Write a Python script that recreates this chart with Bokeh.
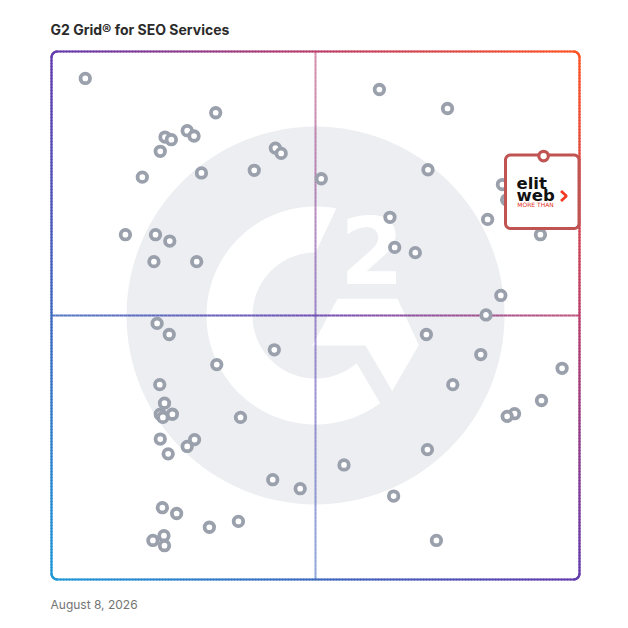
import numpy as np
from bokeh.plotting import figure
from bokeh.models import Range1d, ColumnDataSource
from bokeh.core.properties import value
from bokeh.embed import file_html
from bokeh.resources import INLINE

# ---------------- data ----------------
TITLE = "G2 Grid\u00ae for SEO Services"
DATE_LABEL = "August 8, 2026"

# satisfaction (x) and market presence (y), 0-100 scale
satisfaction = [
    6.4, 31.1, 25.7, 27.0, 21.5, 22.7, 20.6, 17.2, 28.4, 38.4, 42.4, 43.5, 14.0, 19.7, 22.4, 19.4, 27.5,
    51.1, 62.1, 75.0, 71.3, 64.1, 65.0, 68.9, 82.6, 85.4, 86.2, 92.6, 85.1, 82.3,
    20.0, 22.3, 42.2, 31.3, 20.5, 21.4, 20.6, 21.1, 22.9, 35.8, 20.6, 27.1, 25.7, 22.1, 41.9, 47.1,
    21.0, 23.7, 29.9, 35.4, 19.2, 21.3, 21.4,
    71.0, 81.3, 76.0, 96.7, 92.8, 87.7, 86.3, 71.2, 55.4, 64.8, 72.9,
]
market_presence = [
    94.9, 88.4, 85.0, 84.0, 83.8, 83.3, 81.1, 76.2, 77.0, 77.5, 81.7, 80.7, 65.3, 65.3, 64.1, 60.2, 60.2,
    75.9, 92.8, 89.2, 77.6, 68.6, 62.9, 61.9, 68.2, 74.8, 71.9, 65.3, 53.8, 50.1,
    48.5, 46.4, 43.5, 40.7, 36.9, 33.4, 31.3, 30.7, 31.3, 30.7, 26.6, 26.5, 25.2, 23.8, 18.9, 17.2,
    13.6, 12.5, 9.9, 11.0, 7.4, 8.3, 6.4,
    46.4, 42.6, 36.9, 40.0, 33.9, 31.4, 30.9, 24.6, 21.7, 15.8, 7.4,
]
highlight_name = ["Elit-Web"]
highlight_satisfaction = [93.2]
highlight_presence = [80.2]

# ---------------- geometry (pixels of the page) ----------------
W = H = 620
OFF = 0
FX0, FX1 = 51.0, 579.0
FY0, FY1 = 51.0, 579.0
S = (FX1 - FX0) / 100.0


def dx(X):
    return (np.asarray(X, dtype=float) - FX0) / S


def dy(Y):
    return (FY1 - np.asarray(Y, dtype=float)) / S


STOPS = [(0.0, (32, 152, 214)), (0.25, (64, 106, 190)), (0.5, (100, 60, 174)),
         (0.75, (186, 64, 108)), (1.0, (255, 84, 36))]


def grad(X, Y):
    t = ((X - FX0) + (FY1 - Y)) / (2 * (FX1 - FX0))
    t = min(max(t, 0.0), 1.0)
    for (t0, c0), (t1, c1) in zip(STOPS[:-1], STOPS[1:]):
        if t <= t1:
            f = (t - t0) / (t1 - t0)
            return "#%02x%02x%02x" % tuple(int(round(a + (b - a) * f)) for a, b in zip(c0, c1))
    return "#ff5424"


def rounded_rect(x0, y0, x1, y1, r, n=10):
    pts = []
    corners = [(x1 - r, y0 + r, -90, 0), (x1 - r, y1 - r, 0, 90),
               (x0 + r, y1 - r, 90, 180), (x0 + r, y0 + r, 180, 270)]
    for cx, cy, a0, a1 in corners:
        for a in np.linspace(a0, a1, n):
            pts.append((cx + r * np.cos(np.radians(a)), cy + r * np.sin(np.radians(a))))
    pts.append(pts[0])
    return pts


def segments(pts, step=3.0):
    xs, ys, cs = [], [], []
    for (xa, ya), (xb, yb) in zip(pts[:-1], pts[1:]):
        L = np.hypot(xb - xa, yb - ya)
        k = max(1, int(np.ceil(L / step)))
        for i in range(k):
            f0, f1 = i / k, (i + 1) / k
            ax, ay = xa + (xb - xa) * f0, ya + (yb - ya) * f0
            bx, by = xa + (xb - xa) * f1, ya + (yb - ya) * f1
            xs.append(list(dx([ax, bx])))
            ys.append(list(dy([ay, by])))
            cs.append(grad((ax + bx) / 2, (ay + by) / 2))
    return dict(xs=xs, ys=ys, color=cs)


p = figure(width=W, height=H, output_backend="svg", toolbar_location=None,
           x_range=Range1d(float(dx(OFF)), float(dx(OFF + W))),
           y_range=Range1d(float(dy(OFF + H)), float(dy(OFF))),
           x_axis_type=None, y_axis_type=None, min_border=0,
           background_fill_color="white", border_fill_color="white")
p.outline_line_color = None
p.grid.visible = False

# ---------------- G2 watermark ----------------
CX, CY = 315.0, 315.0
p.circle(x=dx([CX]), y=dy([CY]), radius=189.0 / S, fill_color="#eceef1", line_color=None)

R_OUT, R_IN = 109.0, 63.0
a_out = np.radians(np.linspace(79.0, 306.4, 120))
a_in = np.radians(np.linspace(310.8, 90.0, 120))
cx_pts = np.concatenate([CX + R_OUT * np.cos(a_out), CX + R_IN * np.cos(a_in)])
cy_pts = np.concatenate([CY - R_OUT * np.sin(a_out), CY - R_IN * np.sin(a_in)])
p.patch(x=dx(cx_pts), y=dy(cy_pts), fill_color="white", line_color=None)

chev_x = [337.0, 397.0, 418.3, 391.7, 365.0, 311.7]
chev_y = [298.3, 298.3, 344.5, 390.5, 345.0, 345.0]
p.patch(x=dx(chev_x), y=dy(chev_y), fill_color="white", line_color=None)

p.text(x=dx([371.5]), y=dy([249.5]), text=["2"], text_font=value("DejaVu Sans"),
       text_font_size="92px", text_font_style=value("bold"), text_color="white",
       text_align="center", text_baseline="middle")

# ---------------- quadrant lines ----------------
vsrc = ColumnDataSource(segments([(315.0, FY0), (315.0, FY1)], step=4))
p.multi_line(xs="xs", ys="ys", line_color="color", line_width=2, line_alpha=0.6, source=vsrc)
hsrc = ColumnDataSource(segments([(FX0, 315.0), (FX1, 315.0)], step=4))
p.multi_line(xs="xs", ys="ys", line_color="color", line_width=2, line_alpha=0.9, source=hsrc)

# ---------------- frame ----------------
fsrc = ColumnDataSource(segments(rounded_rect(FX0, FY0, FX1, FY1, 6.0), step=3))
p.multi_line(xs="xs", ys="ys", line_color="color", line_width=2.2, line_cap="round", source=fsrc)

# ---------------- products ----------------
p.scatter(x=satisfaction, y=market_presence, marker="circle", size=9.5,
          fill_color="white", line_color="#9aa0ac", line_width=3.8)

# ---------------- highlighted product ----------------
box = rounded_rect(505.0, 154.5, 578.5, 228.0, 5.0)
p.patch(x=dx([q[0] for q in box]), y=dy([q[1] for q in box]), fill_color="white",
        line_color="#c05453", line_width=3)

p.text(x=dx([516.0]), y=dy([183.0]), text=["elit"], text_font=value("DejaVu Sans"),
       text_font_size="16.5px", text_font_style=value("bold"), text_color="#111111",
       text_align="left", text_baseline="middle")
p.text(x=dx([516.0]), y=dy([195.0]), text=["web"], text_font=value("DejaVu Sans"),
       text_font_size="16.5px", text_font_style=value("bold"), text_color="#111111",
       text_align="left", text_baseline="middle")
p.line(x=dx([560.5, 566.0, 560.5]), y=dy([190.5, 195.5, 200.5]), line_color="#f03a22",
       line_width=2.8)
p.text(x=dx([516.8]), y=dy([203.6]), text=["MORE THAN"], text_font=value("DejaVu Sans"),
       text_font_size="6px", text_color="#e0301e", text_align="left",
       text_baseline="middle")

p.scatter(x=highlight_satisfaction, y=highlight_presence, marker="circle", size=9.5,
          fill_color="white", line_color="#c05453", line_width=3.2)

# ---------------- texts ----------------
p.text(x=dx([50.0]), y=dy([29.3]), text=[TITLE], text_font=value("Inter"),
       text_font_size="14px", text_font_style=value("bold"), text_color="#2b2b2b",
       text_align="left", text_baseline="middle")
p.text(x=dx([50.0]), y=dy([603.8]), text=[DATE_LABEL], text_font=value("Inter"),
       text_font_size="12px", text_color="#737373", text_align="left",
       text_baseline="middle")

open("out.html", "w").write(file_html(p, INLINE))
